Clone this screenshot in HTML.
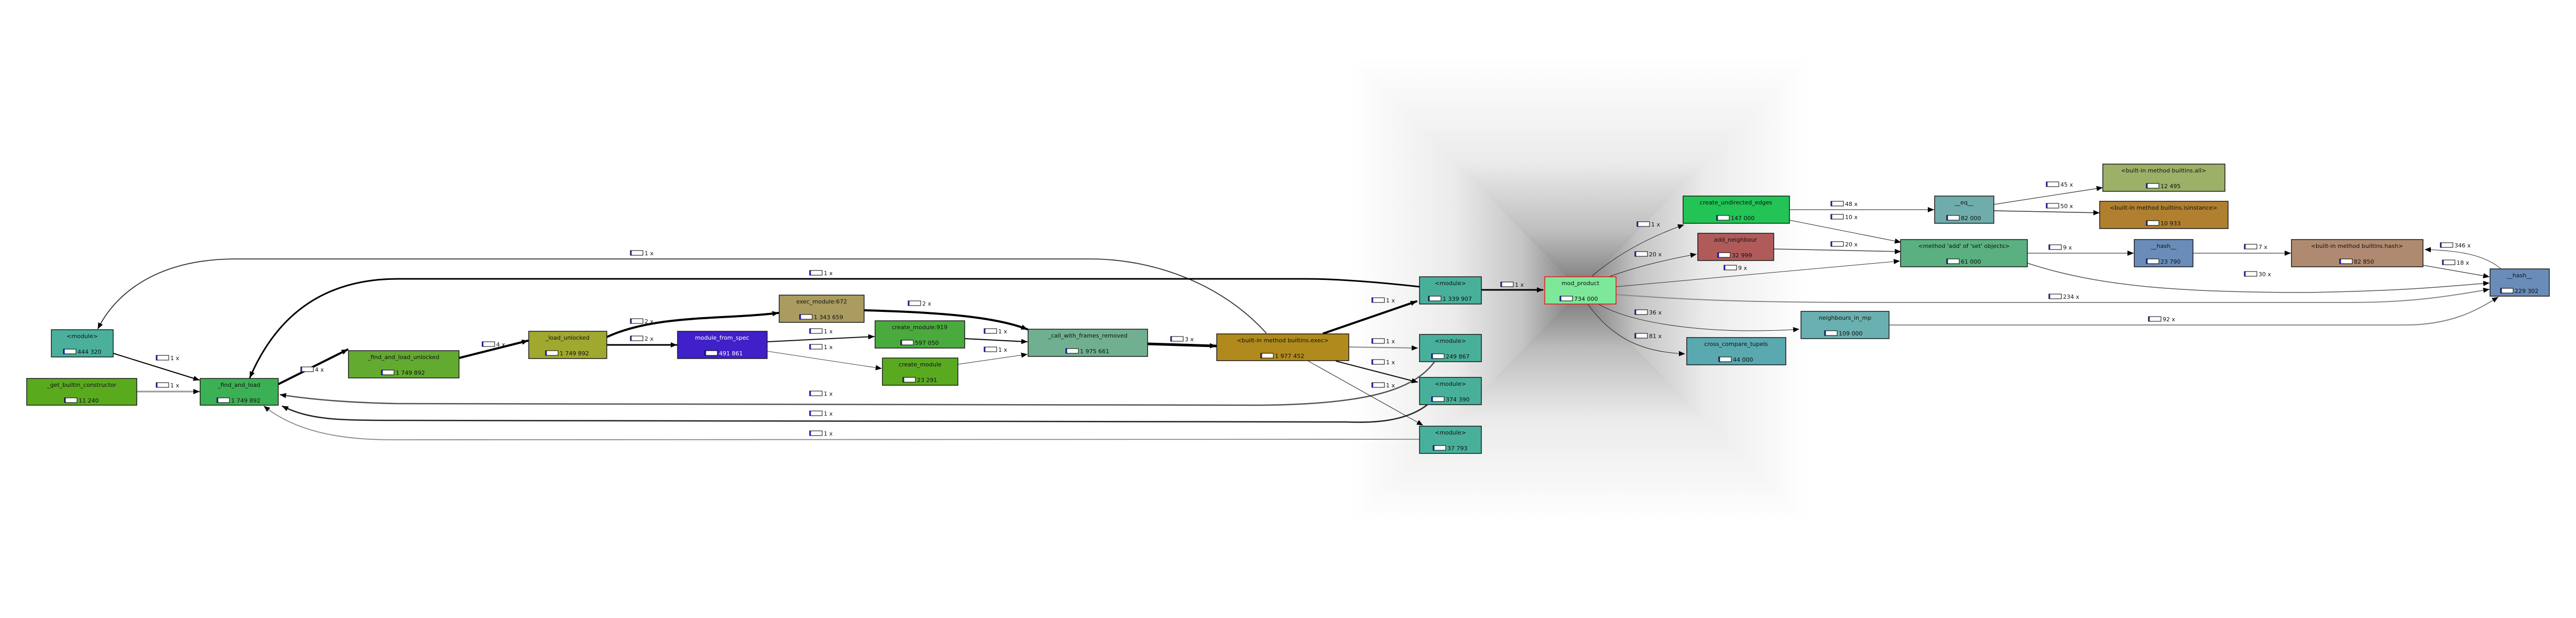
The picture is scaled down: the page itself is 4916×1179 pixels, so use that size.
<!DOCTYPE html>
<html><head><meta charset="utf-8"><style>
html,body{margin:0;padding:0;background:#fff;}
svg{display:block;}
text{font-family:"DejaVu Sans","Liberation Sans",sans-serif;font-size:11px;fill:#111;}
.n{text-anchor:middle;}
</style></head><body>
<svg width="4916" height="1179" viewBox="0 0 4916 1179" xmlns="http://www.w3.org/2000/svg">
<defs>
<linearGradient id="gt" x1="0" y1="110" x2="0" y2="555" gradientUnits="userSpaceOnUse">
<stop offset="0" stop-color="#fff"/><stop offset="0.45" stop-color="#ebebeb"/><stop offset="0.75" stop-color="#bdbdbd"/><stop offset="1" stop-color="#747474"/></linearGradient>
<linearGradient id="gb" x1="0" y1="1000" x2="0" y2="555" gradientUnits="userSpaceOnUse">
<stop offset="0" stop-color="#fff"/><stop offset="0.45" stop-color="#ebebeb"/><stop offset="0.75" stop-color="#bdbdbd"/><stop offset="1" stop-color="#747474"/></linearGradient>
<linearGradient id="gl" x1="2580" y1="0" x2="3015" y2="0" gradientUnits="userSpaceOnUse">
<stop offset="0" stop-color="#fff"/><stop offset="0.45" stop-color="#ebebeb"/><stop offset="0.75" stop-color="#c4c4c4"/><stop offset="1" stop-color="#787878"/></linearGradient>
<linearGradient id="gr" x1="3450" y1="0" x2="3015" y2="0" gradientUnits="userSpaceOnUse">
<stop offset="0" stop-color="#fff"/><stop offset="0.45" stop-color="#ebebeb"/><stop offset="0.75" stop-color="#c4c4c4"/><stop offset="1" stop-color="#787878"/></linearGradient>
<marker id="a" markerWidth="12" markerHeight="10" refX="11" refY="5" orient="auto" markerUnits="userSpaceOnUse"><path d="M0,0 L12,5 L0,10 z" fill="#000"/></marker>
<g id="bar"><rect x="0" y="0" width="24" height="9" fill="#fff" stroke="#000" stroke-width="1"/><rect x="0.5" y="0.5" width="2" height="8" fill="#2020e0"/></g>
</defs>
<rect x="0" y="0" width="4916" height="1179" fill="#fff"/>
<polygon points="2580,110 3450,110 3015,555" fill="url(#gt)"/>
<polygon points="2580,1000 3450,1000 3015,555" fill="url(#gb)"/>
<polygon points="2580,110 2580,1000 3015,555" fill="url(#gl)"/>
<polygon points="3450,110 3450,1000 3015,555" fill="url(#gr)"/>

<g fill="none" stroke-linecap="round">
<path d="M2416,635 C2330,540 2200,494 2080,494 L450,494 C300,494 220,560 187,627" stroke="#333" stroke-width="1.8" marker-end="url(#a)"/>
<path d="M2709,547 C2600,535 2530,532 2492,532 L759,532 C600,532 520,620 477,720" stroke="#000" stroke-width="3" marker-end="url(#a)"/>
<path d="M2737,691 C2700,740 2620,772 2400,773 L760,770 C650,768 580,760 535,753" stroke="#555" stroke-width="2.5" marker-end="url(#a)"/>
<path d="M2723,773 C2680,805 2620,807 2568,805 L748,802 C640,802 590,800 539,775" stroke="#222" stroke-width="2.5" marker-end="url(#a)"/>
<path d="M2709,838 L748,839 C640,839 560,820 504,775" stroke="#888" stroke-width="1.8" marker-end="url(#a)"/>
<path d="M216,674 L380,725" stroke="#000" stroke-width="2" marker-end="url(#a)"/>
<path d="M261,747 L380,747" stroke="#999" stroke-width="3" marker-end="url(#a)"/>
<path d="M531,733 L663,667" stroke="#000" stroke-width="4" marker-end="url(#a)"/>
<path d="M876,683 L1007,650" stroke="#000" stroke-width="4" marker-end="url(#a)"/>
<path d="M1158,643 C1250,600 1380,610 1485,597" stroke="#000" stroke-width="4" marker-end="url(#a)"/>
<path d="M1158,658 L1291,658" stroke="#000" stroke-width="3" marker-end="url(#a)"/>
<path d="M1464,652 L1668,642" stroke="#111" stroke-width="2" marker-end="url(#a)"/>
<path d="M1464,670 L1682,703" stroke="#444" stroke-width="1" marker-end="url(#a)"/>
<path d="M1649,592 C1800,596 1900,605 1960,628" stroke="#000" stroke-width="4" marker-end="url(#a)"/>
<path d="M1841,646 L1960,652" stroke="#000" stroke-width="2" marker-end="url(#a)"/>
<path d="M1828,695 L1960,676" stroke="#333" stroke-width="1" marker-end="url(#a)"/>
<path d="M2190,656 L2320,660" stroke="#000" stroke-width="5" marker-end="url(#a)"/>
<path d="M2526,636 L2703,575" stroke="#000" stroke-width="4" marker-end="url(#a)"/>
<path d="M2574,662 L2705,664" stroke="#888" stroke-width="2" marker-end="url(#a)"/>
<path d="M2550,689 L2705,729" stroke="#111" stroke-width="2" marker-end="url(#a)"/>
<path d="M2497,689 L2715,811" stroke="#111" stroke-width="1" marker-end="url(#a)"/>
<path d="M2827,553 L2944,553" stroke="#000" stroke-width="3" marker-end="url(#a)"/>
<path d="M3038,527 C3080,490 3140,455 3213,429" stroke="#222" stroke-width="1" marker-end="url(#a)"/>
<path d="M3073,527 C3120,510 3180,495 3237,485" stroke="#222" stroke-width="1" marker-end="url(#a)"/>
<path d="M3084,547 L3625,498" stroke="#333" stroke-width="1" marker-end="url(#a)"/>
<path d="M3084,562 C3200,570 3300,577 3560,577 L4490,577 C4620,577 4700,560 4750,552" stroke="#888" stroke-width="2" marker-end="url(#a)"/>
<path d="M3050,580 C3120,620 3250,630 3330,631 C3380,631 3410,630 3433,628" stroke="#222" stroke-width="1" marker-end="url(#a)"/>
<path d="M3030,580 C3080,650 3140,672 3215,675" stroke="#222" stroke-width="1" marker-end="url(#a)"/>
<path d="M3415,400 L3690,400" stroke="#888" stroke-width="2" marker-end="url(#a)"/>
<path d="M3415,420 L3627,462" stroke="#222" stroke-width="1" marker-end="url(#a)"/>
<path d="M3385,475 L3627,480" stroke="#444" stroke-width="1.5" marker-end="url(#a)"/>
<path d="M3805,390 L4012,358" stroke="#333" stroke-width="1.2" marker-end="url(#a)"/>
<path d="M3805,402 L4006,406" stroke="#333" stroke-width="1.5" marker-end="url(#a)"/>
<path d="M3869,483 L4071,483" stroke="#888" stroke-width="2" marker-end="url(#a)"/>
<path d="M3869,502 C4000,545 4150,558 4400,558 C4600,555 4680,545 4750,540" stroke="#555" stroke-width="1.5" marker-end="url(#a)"/>
<path d="M4185,483 L4371,483" stroke="#888" stroke-width="2" marker-end="url(#a)"/>
<path d="M4624,506 L4750,528" stroke="#333" stroke-width="1.2" marker-end="url(#a)"/>
<path d="M4773,513 C4740,485 4690,478 4628,476" stroke="#333" stroke-width="1" marker-end="url(#a)"/>
<path d="M3605,620 L4590,620 C4680,620 4730,590 4767,567" stroke="#888" stroke-width="2" marker-end="url(#a)"/>
</g>

<g>
<use href="#bar" x="1203" y="478"/><text x="1230" y="487">1 x</text>
<use href="#bar" x="1545" y="516"/><text x="1572" y="525">1 x</text>
<use href="#bar" x="1545" y="746"/><text x="1572" y="755">1 x</text>
<use href="#bar" x="1545" y="784"/><text x="1572" y="793">1 x</text>
<use href="#bar" x="1545" y="822"/><text x="1572" y="831">1 x</text>
<use href="#bar" x="298" y="678"/><text x="325" y="687">1 x</text>
<use href="#bar" x="298" y="730"/><text x="325" y="739">1 x</text>
<use href="#bar" x="574" y="700"/><text x="601" y="709">4 x</text>
<use href="#bar" x="920" y="652"/><text x="947" y="661">4 x</text>
<use href="#bar" x="1203" y="608"/><text x="1230" y="617">2 x</text>
<use href="#bar" x="1203" y="641"/><text x="1230" y="650">2 x</text>
<use href="#bar" x="1545" y="627"/><text x="1572" y="636">1 x</text>
<use href="#bar" x="1545" y="657"/><text x="1572" y="666">1 x</text>
<use href="#bar" x="1733" y="574"/><text x="1760" y="583">2 x</text>
<use href="#bar" x="1878" y="627"/><text x="1905" y="636">1 x</text>
<use href="#bar" x="1878" y="662"/><text x="1905" y="671">1 x</text>
<use href="#bar" x="2234" y="642"/><text x="2261" y="651">3 x</text>
<use href="#bar" x="2618" y="568"/><text x="2645" y="577">1 x</text>
<use href="#bar" x="2618" y="646"/><text x="2645" y="655">1 x</text>
<use href="#bar" x="2618" y="686"/><text x="2645" y="695">1 x</text>
<use href="#bar" x="2618" y="730"/><text x="2645" y="739">1 x</text>
<use href="#bar" x="2864" y="538"/><text x="2891" y="547">1 x</text>
<use href="#bar" x="3124" y="423"/><text x="3151" y="432">1 x</text>
<use href="#bar" x="3120" y="480"/><text x="3147" y="489">20 x</text>
<use href="#bar" x="3290" y="506"/><text x="3317" y="515">9 x</text>
<use href="#bar" x="3120" y="591"/><text x="3147" y="600">36 x</text>
<use href="#bar" x="3120" y="636"/><text x="3147" y="645">81 x</text>
<use href="#bar" x="3494" y="384"/><text x="3521" y="393">48 x</text>
<use href="#bar" x="3494" y="409"/><text x="3521" y="418">10 x</text>
<use href="#bar" x="3494" y="461"/><text x="3521" y="470">20 x</text>
<use href="#bar" x="3905" y="347"/><text x="3932" y="356">45 x</text>
<use href="#bar" x="3905" y="388"/><text x="3932" y="397">50 x</text>
<use href="#bar" x="3910" y="467"/><text x="3937" y="476">9 x</text>
<use href="#bar" x="3910" y="561"/><text x="3937" y="570">234 x</text>
<use href="#bar" x="4283" y="466"/><text x="4310" y="475">7 x</text>
<use href="#bar" x="4283" y="518"/><text x="4310" y="527">30 x</text>
<use href="#bar" x="4657" y="463"/><text x="4684" y="472">346 x</text>
<use href="#bar" x="4661" y="496"/><text x="4688" y="505">18 x</text>
<use href="#bar" x="4100" y="604"/><text x="4127" y="613">92 x</text>
</g>

<g stroke="#1a1a1a" stroke-width="1.5">
<rect x="98" y="629" width="118" height="52" fill="#4ab09c"/>
<rect x="51" y="722" width="210" height="51" fill="#5aaa1e"/>
<rect x="382" y="722" width="149" height="51" fill="#3cb054"/>
<rect x="665" y="669" width="211" height="52" fill="#62aa30"/>
<rect x="1009" y="632" width="149" height="52" fill="#a0a830"/>
<rect x="1293" y="632" width="171" height="52" fill="#4020c8"/>
<rect x="1487" y="563" width="162" height="52" fill="#aa9c60"/>
<rect x="1670" y="612" width="171" height="52" fill="#4aaa3e"/>
<rect x="1684" y="683" width="144" height="52" fill="#5aaa20"/>
<rect x="1962" y="628" width="228" height="52" fill="#70b090"/>
<rect x="2322" y="637" width="252" height="51" fill="#b08a1c"/>
<rect x="2709" y="528" width="118" height="52" fill="#48b09a"/>
<rect x="2709" y="638" width="118" height="52" fill="#48b09a"/>
<rect x="2709" y="720" width="118" height="52" fill="#48b09a"/>
<rect x="2709" y="813" width="118" height="52" fill="#48b09a"/>
<rect x="2948" y="528" width="136" height="52" fill="#7ee89a" stroke="#ee1111"/>
<rect x="3212" y="374" width="203" height="52" fill="#22c455"/>
<rect x="3240" y="445" width="145" height="52" fill="#b05a5a"/>
<rect x="3219" y="644" width="189" height="52" fill="#5aa8b0"/>
<rect x="3437" y="594" width="168" height="52" fill="#6ab0b0"/>
<rect x="3692" y="374" width="113" height="52" fill="#70acac"/>
<rect x="4013" y="313" width="233" height="52" fill="#9cb068"/>
<rect x="4007" y="384" width="245" height="52" fill="#b08030"/>
<rect x="3627" y="457" width="242" height="52" fill="#5ab080"/>
<rect x="4073" y="457" width="112" height="52" fill="#6a8cb8"/>
<rect x="4373" y="457" width="251" height="52" fill="#b08a70"/>
<rect x="4752" y="513" width="113" height="52" fill="#6a8cb8"/>
</g>

<g>
<text class="n" x="157" y="645">&lt;module&gt;</text><use href="#bar" x="121" y="666"/><text x="148" y="675">444 320</text>
<text class="n" x="156" y="738">_get_builtin_constructor</text><use href="#bar" x="123" y="759"/><text x="150" y="768">11 240</text>
<text class="n" x="456" y="738">_find_and_load</text><use href="#bar" x="414" y="759"/><text x="441" y="768">1 749 892</text>
<text class="n" x="770" y="685">_find_and_load_unlocked</text><use href="#bar" x="728" y="706"/><text x="755" y="715">1 749 892</text>
<text class="n" x="1083" y="648">_load_unlocked</text><use href="#bar" x="1041" y="669"/><text x="1068" y="678">1 749 892</text>
<text class="n" x="1378" y="648" style="fill:#fff">module_from_spec</text><use href="#bar" x="1345" y="669"/><text x="1372" y="678" style="fill:#fff">491 861</text>
<text class="n" x="1568" y="579">exec_module:672</text><use href="#bar" x="1526" y="600"/><text x="1553" y="609">1 343 659</text>
<text class="n" x="1755" y="628">create_module:919</text><use href="#bar" x="1719" y="649"/><text x="1746" y="658">597 050</text>
<text class="n" x="1756" y="699">create_module</text><use href="#bar" x="1723" y="720"/><text x="1750" y="729">23 291</text>
<text class="n" x="2076" y="644">_call_with_frames_removed</text><use href="#bar" x="2034" y="665"/><text x="2061" y="674">1 975 661</text>
<text class="n" x="2448" y="653">&lt;built-in method builtins.exec&gt;</text><use href="#bar" x="2406" y="674"/><text x="2433" y="683">1 977 452</text>
<text class="n" x="2768" y="544">&lt;module&gt;</text><use href="#bar" x="2726" y="565"/><text x="2753" y="574">1 339 907</text>
<text class="n" x="2768" y="654">&lt;module&gt;</text><use href="#bar" x="2732" y="675"/><text x="2759" y="684">249 867</text>
<text class="n" x="2768" y="736">&lt;module&gt;</text><use href="#bar" x="2732" y="757"/><text x="2759" y="766">374 390</text>
<text class="n" x="2768" y="829">&lt;module&gt;</text><use href="#bar" x="2735" y="850"/><text x="2762" y="859">37 793</text>
<text class="n" x="3016" y="544">mod_product</text><use href="#bar" x="2977" y="565"/><text x="3004" y="574">734 000</text>
<text class="n" x="3313" y="390">create_undirected_edges</text><use href="#bar" x="3276" y="411"/><text x="3303" y="420">147 000</text>
<text class="n" x="3312" y="461">add_neighbour</text><use href="#bar" x="3278" y="482"/><text x="3305" y="491">32 999</text>
<text class="n" x="3313" y="660">cross_compare_tupels</text><use href="#bar" x="3280" y="681"/><text x="3307" y="690">44 000</text>
<text class="n" x="3521" y="610">neighbours_in_mp</text><use href="#bar" x="3482" y="631"/><text x="3509" y="640">109 000</text>
<text class="n" x="3748" y="390">__eq__</text><use href="#bar" x="3715" y="411"/><text x="3742" y="420">82 000</text>
<text class="n" x="4129" y="329">&lt;built-in method builtins.all&gt;</text><use href="#bar" x="4096" y="350"/><text x="4123" y="359">12 495</text>
<text class="n" x="4129" y="400">&lt;built-in method builtins.isinstance&gt;</text><use href="#bar" x="4096" y="421"/><text x="4123" y="430">10 933</text>
<text class="n" x="3748" y="473">&lt;method 'add' of 'set' objects&gt;</text><use href="#bar" x="3715" y="494"/><text x="3742" y="503">61 000</text>
<text class="n" x="4129" y="473">__hash__</text><use href="#bar" x="4096" y="494"/><text x="4123" y="503">23 790</text>
<text class="n" x="4498" y="473">&lt;built-in method builtins.hash&gt;</text><use href="#bar" x="4465" y="494"/><text x="4492" y="503">82 850</text>
<text class="n" x="4808" y="529">__hash__</text><use href="#bar" x="4772" y="550"/><text x="4799" y="559">229 302</text>
</g>
</svg>
</body></html>
